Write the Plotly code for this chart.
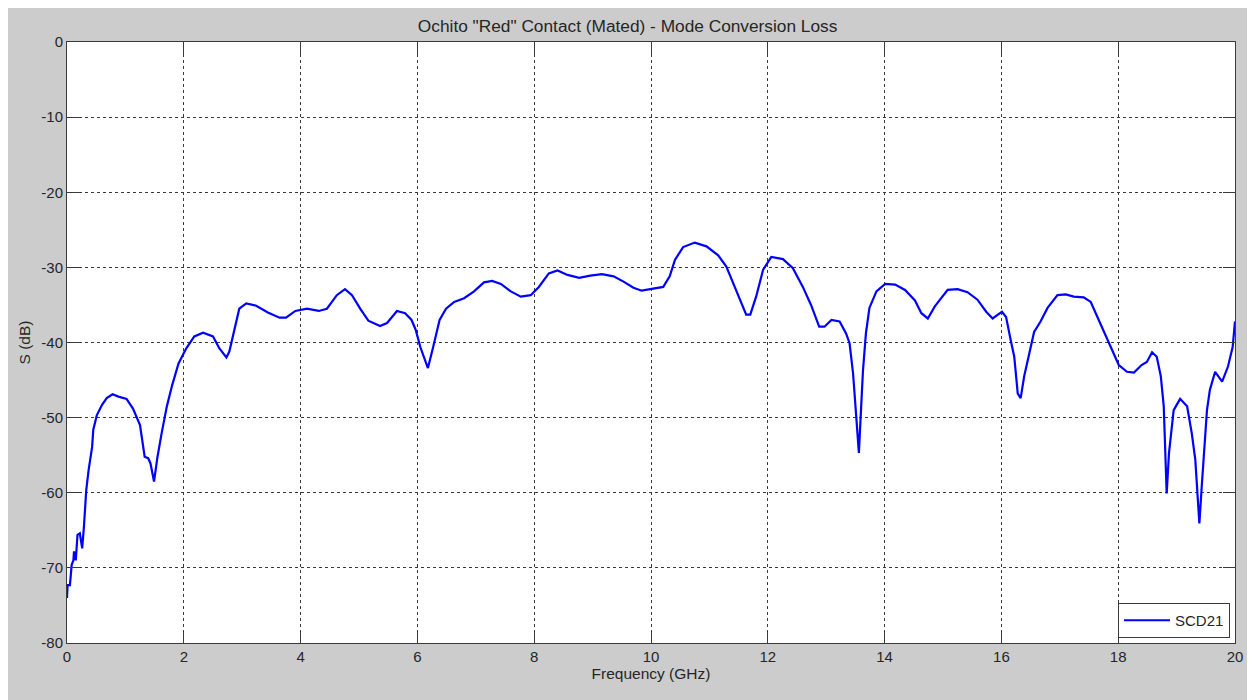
import plotly.graph_objects as go

freq_ghz = [
    0.00, 0.01, 0.05, 0.08, 0.11, 0.12, 0.15, 0.18, 0.22, 0.26, 0.29, 0.33, 0.37, 0.43, 0.45,
    0.51, 0.60, 0.68, 0.78, 0.88, 1.02, 1.13, 1.25, 1.33, 1.39, 1.43, 1.49, 1.55, 1.62, 1.71,
    1.80, 1.91, 2.04, 2.18, 2.33, 2.50, 2.61, 2.73, 2.78, 2.87, 2.95, 3.07, 3.24, 3.44, 3.64,
    3.75, 3.91, 4.11, 4.31, 4.45, 4.62, 4.76, 4.88, 5.02, 5.16, 5.36, 5.48, 5.65, 5.79, 5.90,
    5.97, 6.05, 6.18, 6.27, 6.38, 6.49, 6.63, 6.80, 6.97, 7.14, 7.28, 7.43, 7.60, 7.77, 7.94,
    8.08, 8.25, 8.40, 8.57, 8.77, 8.96, 9.16, 9.36, 9.53, 9.70, 9.84, 10.01, 10.21, 10.32, 10.41,
    10.55, 10.75, 10.95, 11.15, 11.29, 11.43, 11.55, 11.63, 11.70, 11.80, 11.92, 12.06, 12.26, 12.43, 12.60,
    12.74, 12.88, 12.97, 13.09, 13.23, 13.34, 13.40, 13.46, 13.51, 13.56, 13.59, 13.63, 13.68, 13.74, 13.86,
    14.01, 14.18, 14.35, 14.52, 14.63, 14.74, 14.86, 15.08, 15.25, 15.42, 15.59, 15.74, 15.85, 16.01, 16.08,
    16.16, 16.22, 16.28, 16.33, 16.39, 16.48, 16.56, 16.67, 16.79, 16.96, 17.10, 17.24, 17.41, 17.53, 17.67,
    17.81, 18.01, 18.15, 18.27, 18.40, 18.49, 18.58, 18.66, 18.73, 18.78, 18.83, 18.87, 18.95, 19.06, 19.18,
    19.26, 19.32, 19.37, 19.39, 19.43, 19.52, 19.57, 19.66, 19.78, 19.88, 19.96, 20.00,
]

scd21_db = [
    -74.0, -72.3, -72.3, -69.6, -69.0, -67.8, -69.0, -65.6, -65.4, -67.4, -64.5, -59.6, -57.0, -53.9, -51.6,
    -49.7, -48.3, -47.4, -46.9, -47.2, -47.5, -48.8, -51.0, -55.2, -55.4, -56.1, -58.5, -55.2, -52.1, -48.5,
    -45.7, -42.8, -40.8, -39.2, -38.7, -39.2, -40.8, -42.0, -41.2, -38.3, -35.5, -34.8, -35.1, -36.0, -36.7,
    -36.7, -35.8, -35.5, -35.8, -35.5, -33.7, -32.9, -33.7, -35.5, -37.1, -37.8, -37.4, -35.8, -36.1, -37.0,
    -38.3, -40.6, -43.4, -40.6, -37.0, -35.5, -34.6, -34.1, -33.2, -32.0, -31.8, -32.2, -33.2, -33.9, -33.7,
    -32.6, -30.8, -30.4, -31.0, -31.4, -31.1, -30.9, -31.2, -31.9, -32.7, -33.1, -32.9, -32.6, -31.2, -29.0,
    -27.3, -26.7, -27.2, -28.4, -29.9, -32.6, -35.0, -36.3, -36.3, -33.9, -30.3, -28.6, -28.9, -30.1, -32.6,
    -35.0, -37.9, -37.9, -37.0, -37.2, -38.8, -40.1, -44.1, -49.4, -54.7, -49.9, -43.7, -38.8, -35.4, -33.2,
    -32.2, -32.3, -33.0, -34.4, -36.1, -36.8, -35.2, -33.0, -32.9, -33.3, -34.3, -35.9, -36.8, -35.9, -36.6,
    -39.7, -41.9, -46.8, -47.4, -44.5, -41.4, -38.6, -37.2, -35.4, -33.7, -33.6, -33.9, -34.0, -34.6, -37.0,
    -39.5, -43.0, -43.9, -44.0, -43.0, -42.6, -41.3, -41.9, -44.5, -48.5, -60.1, -54.7, -49.0, -47.5, -48.5,
    -52.1, -55.6, -62.3, -64.1, -59.2, -49.0, -46.3, -43.9, -45.2, -43.2, -40.6, -37.2,
]

x_tick_vals = [0, 2, 4, 6, 8, 10, 12, 14, 16, 18, 20]
x_tick_text = ["0", "2", "4", "6", "8", "10", "12", "14", "16", "18", "20"]
y_tick_vals = [-80, -70, -60, -50, -40, -30, -20, -10, 0]
y_tick_text = ["-80", "-70", "-60", "-50", "-40", "-30", "-20", "-10", "0"]

FONT = "Arial, Liberation Sans, sans-serif"
TXT = "#262626"
W, H = 1247, 692  # page draws the figure with an 8px offset

fig = go.Figure()
fig.add_trace(go.Scatter(
    x=freq_ghz, y=scd21_db, mode="lines", name="SCD21",
    line=dict(color="#0000ff", width=2.2),
))

axis_common = dict(
    showline=True, linecolor="#3a3a3a", linewidth=1, mirror="ticks",
    ticks="inside", ticklen=12, tickcolor="#3a3a3a", tickwidth=1,
    showgrid=True, gridcolor="#3a3a3a", gridwidth=1, griddash="3px,3px",
    zeroline=False, tickfont=dict(family=FONT, size=15, color=TXT),
)

fig.update_layout(
    width=W, height=H,
    paper_bgcolor="#cccccc", plot_bgcolor="#ffffff",
    margin=dict(l=59, r=13, t=34, b=57),
    font=dict(family=FONT, color=TXT),
    title=dict(text='Ochito "Red" Contact (Mated) - Mode Conversion Loss',
               x=0.48, xref="paper", y=1 - 18 / H, yref="container",
               xanchor="center", yanchor="middle",
               font=dict(family=FONT, size=17.3, color=TXT)),
    xaxis=dict(range=[0, 20], tickvals=x_tick_vals, ticktext=x_tick_text,
               title=dict(text="Frequency (GHz)", standoff=2,
                          font=dict(family=FONT, size=15.5, color=TXT)),
               **axis_common),
    yaxis=dict(range=[-80, 0], tickvals=y_tick_vals, ticktext=y_tick_text,
               title=dict(text="S (dB)", standoff=6,
                          font=dict(family=FONT, size=15.5, color=TXT)),
               **axis_common),
    showlegend=True,
    legend=dict(x=0.9957, y=0.0083, xanchor="right", yanchor="bottom",
                bgcolor="#ffffff", bordercolor="#3a3a3a", borderwidth=1,
                font=dict(family=FONT, size=15, color=TXT),
                itemwidth=46, tracegroupgap=0),
)

fig.write_html("out.html")
